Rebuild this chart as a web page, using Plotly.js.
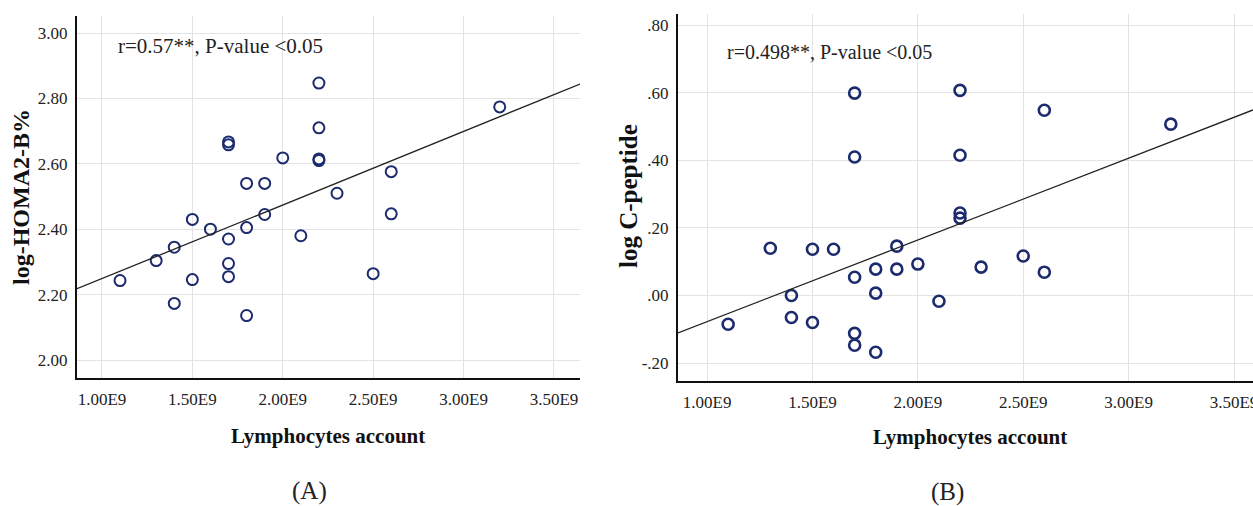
<!DOCTYPE html>
<html>
<head>
<meta charset="utf-8">
<script src="https://cdn.plot.ly/plotly-3.0.1.min.js"></script>
<style>html,body{margin:0;padding:0;background:#fff;}#chart{width:1253px;height:506px;}</style>
</head>
<body>
<div id="chart"></div>
<script>
// ---- Data ----
// Panel A: Lymphocytes count vs log-HOMA2-B%
const lymphA = [2.2e9, 2.2e9, 2.2e9, 2.2e9, 1.7e9, 1.7e9, 2.0e9, 1.8e9, 1.9e9, 1.9e9,
                1.5e9, 1.6e9, 1.8e9, 1.7e9, 2.1e9, 1.4e9, 1.3e9, 1.1e9, 1.5e9, 1.7e9,
                1.7e9, 1.4e9, 1.8e9, 2.3e9, 2.6e9, 2.6e9, 3.2e9, 2.5e9];
const homaA  = [2.847, 2.710, 2.610, 2.615, 2.667, 2.658, 2.618, 2.540, 2.540, 2.445,
                2.430, 2.400, 2.405, 2.370, 2.380, 2.345, 2.304, 2.243, 2.246, 2.295,
                2.255, 2.173, 2.136, 2.510, 2.576, 2.447, 2.774, 2.264];
const fitAx = [0.862e9, 3.644e9];
const fitAy = [2.218, 2.844];

// Panel B: Lymphocytes count vs log C-peptide
const lymphB = [1.7e9, 1.7e9, 1.3e9, 1.5e9, 1.6e9, 1.9e9, 2.0e9, 1.9e9, 1.8e9, 1.7e9,
                1.8e9, 1.4e9, 1.4e9, 1.5e9, 1.1e9, 1.7e9, 1.7e9, 1.8e9, 2.1e9, 2.3e9,
                2.5e9, 2.6e9, 2.2e9, 2.2e9, 2.2e9, 2.2e9, 2.6e9, 3.2e9];
const cpepB  = [0.599, 0.410, 0.140, 0.137, 0.137, 0.146, 0.093, 0.078, 0.078, 0.054,
                0.007, 0.000, -0.065, -0.080, -0.085, -0.112, -0.147, -0.168, -0.017, 0.084,
                0.117, 0.069, 0.607, 0.415, 0.244, 0.229, 0.548, 0.507];
const fitBx = [0.862e9, 3.59e9];
const fitBy = [-0.111, 0.549];

// Tick labels
const xTickVals = [1.0e9, 1.5e9, 2.0e9, 2.5e9, 3.0e9, 3.5e9];
const xTickText = ["1.00E9", "1.50E9", "2.00E9", "2.50E9", "3.00E9", "3.50E9"];
const yTickValsA = [2.0, 2.2, 2.4, 2.6, 2.8, 3.0];
const yTickTextA = ["2.00", "2.20", "2.40", "2.60", "2.80", "3.00"];
const yTickValsB = [-0.2, 0.0, 0.2, 0.4, 0.6, 0.8];
const yTickTextB = ["-.20", ".00", ".20", ".40", ".60", ".80"];

// Texts
const annoA = "r=0.57**, P-value <0.05";
const annoB = "r=0.498**, P-value <0.05";
const xTitle = "Lymphocytes account";
const yTitleA = "log-HOMA2-B%";
const yTitleB = "log C-peptide";
const panelA = "(A)";
const panelB = "(B)";

// ---- Styling ----
const W = 1253, H = 506;
const serif = "Liberation Serif, Times New Roman, serif";
const markerColor = "#1c2a6e";
const px = v => v / W;
const py = v => 1 - v / H;

const traces = [
  {x: lymphA, y: homaA, xaxis: 'x', yaxis: 'y', type: 'scatter', mode: 'markers',
   marker: {symbol: 'circle-open', size: 11, color: markerColor, line: {width: 2, color: markerColor}},
   hoverinfo: 'x+y', showlegend: false},
  {x: fitAx, y: fitAy, xaxis: 'x', yaxis: 'y', type: 'scatter', mode: 'lines',
   line: {color: '#222', width: 1.3}, hoverinfo: 'skip', showlegend: false},
  {x: lymphB, y: cpepB, xaxis: 'x2', yaxis: 'y2', type: 'scatter', mode: 'markers',
   marker: {symbol: 'circle-open', size: 11, color: markerColor, line: {width: 2.6, color: markerColor}},
   hoverinfo: 'x+y', showlegend: false},
  {x: fitBx, y: fitBy, xaxis: 'x2', yaxis: 'y2', type: 'scatter', mode: 'lines',
   line: {color: '#222', width: 1.3}, hoverinfo: 'skip', showlegend: false}
];

const axisCommon = {
  showline: true, linecolor: '#111', linewidth: 2, mirror: false,
  showgrid: true, gridcolor: '#e3e3e3', gridwidth: 1,
  zeroline: false, ticks: '', tickmode: 'array',
  ticklabeloverflow: 'allow',
  tickfont: {family: serif, size: 17, color: '#222'}
};

const layout = {
  width: W, height: H,
  margin: {l: 0, r: 0, t: 0, b: 0},
  paper_bgcolor: '#fff', plot_bgcolor: '#fff',
  showlegend: false,
  xaxis: Object.assign({}, axisCommon, {domain: [px(77), px(580)], range: [0.862e9, 3.644e9],
    tickvals: xTickVals, ticktext: xTickText, anchor: 'y', ticklabelstandoff: 5}),
  yaxis: Object.assign({}, axisCommon, {domain: [py(378), py(16)], range: [1.945, 3.052],
    tickvals: yTickValsA, ticktext: yTickTextA, anchor: 'x', ticklabelstandoff: 4}),
  xaxis2: Object.assign({}, axisCommon, {domain: [px(678), 1], range: [0.862e9, 3.59e9],
    tickvals: xTickVals, ticktext: xTickText, anchor: 'y2', ticklabelstandoff: 5}),
  yaxis2: Object.assign({}, axisCommon, {domain: [py(381), py(14)], range: [-0.253, 0.833],
    tickvals: yTickValsB, ticktext: yTickTextB, anchor: 'x2', ticklabelstandoff: 4}),
  annotations: [
    {text: annoA, xref: 'paper', yref: 'paper', x: px(116), y: py(46), xanchor: 'left', yanchor: 'middle',
     showarrow: false, font: {family: serif, size: 21, color: '#222'}},
    {text: annoB, xref: 'paper', yref: 'paper', x: px(725), y: py(52), xanchor: 'left', yanchor: 'middle',
     showarrow: false, font: {family: serif, size: 20, color: '#222'}},
    {text: '<b>' + xTitle + '</b>', xref: 'paper', yref: 'paper', x: px(328), y: py(436), xanchor: 'center', yanchor: 'middle',
     showarrow: false, font: {family: serif, size: 21, color: '#111'}},
    {text: '<b>' + xTitle + '</b>', xref: 'paper', yref: 'paper', x: px(970), y: py(437), xanchor: 'center', yanchor: 'middle',
     showarrow: false, font: {family: serif, size: 21, color: '#111'}},
    {text: '<b>' + yTitleA + '</b>', xref: 'paper', yref: 'paper', x: px(21), y: py(197), xanchor: 'center', yanchor: 'middle',
     textangle: -90, showarrow: false, font: {family: serif, size: 24, color: '#111'}},
    {text: '<b>' + yTitleB + '</b>', xref: 'paper', yref: 'paper', x: px(628), y: py(196), xanchor: 'center', yanchor: 'middle',
     textangle: -90, showarrow: false, font: {family: serif, size: 25, color: '#111'}},
    {text: panelA, xref: 'paper', yref: 'paper', x: px(309), y: py(491), xanchor: 'center', yanchor: 'middle',
     showarrow: false, font: {family: serif, size: 25, color: '#222'}},
    {text: panelB, xref: 'paper', yref: 'paper', x: px(947), y: py(492), xanchor: 'center', yanchor: 'middle',
     showarrow: false, font: {family: serif, size: 25, color: '#222'}}
  ]
};

Plotly.newPlot('chart', traces, layout, {staticPlot: true, displayModeBar: false});
</script>
</body>
</html>
